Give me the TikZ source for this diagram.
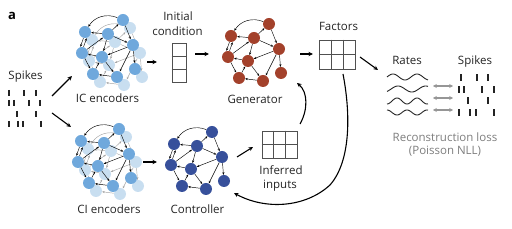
\documentclass[tikz,border=0pt]{standalone}
\usepackage{fontspec}
\setmainfont{Open Sans}
\usetikzlibrary{arrows.meta,calc}
\definecolor{icblue}{RGB}{111,168,220}
\definecolor{iclight}{RGB}{200,222,240}
\definecolor{genred}{RGB}{163,65,43}
\definecolor{ctrlblue}{RGB}{55,80,155}
\definecolor{arrgray}{RGB}{150,150,150}
\definecolor{backedge}{RGB}{165,165,165}
\definecolor{txtgray}{RGB}{125,125,125}
\definecolor{txtdark}{RGB}{35,35,35}
\definecolor{gridgray}{RGB}{80,80,80}

\tikzset{
 netnode/.style={circle, inner sep=0pt, minimum size=12pt, draw=none},
 netedge/.style={line width=0.45pt, -{Stealth[length=2.6pt,width=2.2pt]}},
 mainarrow/.style={line width=1.1pt, -{Stealth[length=4.5pt,width=4.2pt]}},
 lbl/.style={font=\fontsize{11.5}{13}\selectfont, inner sep=0pt, text=txtdark},
 graylbl/.style={font=\fontsize{11.5}{13}\selectfont, inner sep=0pt, text=txtgray},
 spiketick/.style={line width=2pt, txtdark},
 gridbox/.style={draw=gridgray, line width=0.6pt, inner sep=0pt},
 gridline/.style={gridgray, line width=0.6pt},
 wave/.style={line width=0.9pt, txtdark},
 lossarrow/.style={line width=1.1pt, arrgray, {Stealth[length=3.8pt,width=4pt]}-{Stealth[length=3.8pt,width=4pt]}},
}

\newcommand\netnodes[3]{%
 \begin{scope}[shift={#2}]
  \foreach \i/\px/\py in {1/123/20,2/85/32,3/108/34,4/133/45,5/82/53,6/102/57,7/135/69,8/93/74,9/117/77}
   \node[netnode,fill=#3] (#1n\i) at (\px,\py) {};
 \end{scope}}

\newcommand\netedges[2]{%
 \begin{scope}[netedge,color=#2]
  \draw (#1n1) to[bend right=40] (#1n2);
  \draw (#1n3) -- (#1n1);
  \draw (#1n3) -- (#1n2);
  \draw (#1n1) -- (#1n4);
  \draw (#1n3) -- (#1n4);
  \draw ([xshift=-1.6pt]#1n2.south) -- ([xshift=-1.6pt]#1n5.north);
  \draw ([xshift=1.6pt]#1n5.north) -- ([xshift=1.6pt]#1n2.south);
  \draw (#1n5) -- (#1n3);
  \draw (#1n4) -- (#1n6);
  \draw (#1n3) -- (#1n6);
  \draw (#1n6) -- (#1n5);
  \draw (#1n5) -- (#1n8);
  \draw (#1n6) -- (#1n9);
  \draw (#1n4) -- (#1n9);
  \draw (#1n4) -- (#1n7);
  \draw (#1n9) -- (#1n8);
  \draw (#1n8) -- (#1n6);
 \end{scope}}

\begin{document}
\begin{tikzpicture}[x=1pt,y=-1pt]
\useasboundingbox (0,0) rectangle (512,229);

% panel label
\node[inner sep=0pt, anchor=base, font=\fontsize{13}{15}\selectfont\bfseries, text=black] (lab) at (12,19.5) {a};

% input spikes
\node[lbl, anchor=base] (spkL) at (25.5,80) {Spikes};
\foreach \x/\y in {9/93,24/93,36/93, 9/103,14/103,29/103,40/103, 17/114,36/114, 9/124,18/124,23/124,41/124}
  \draw[spiketick] (\x,\y-3.2) -- (\x,\y+3.2);

% encoders
\netnodes{icb}{(7,8)}{iclight}
\netedges{icb}{backedge}
\netnodes{ic}{(0,0)}{icblue}
\netedges{ic}{black}
\node[lbl, anchor=base] (iclab) at (107.5,103) {IC encoders};

\netnodes{cib}{(3,117)}{iclight}
\netedges{cib}{backedge}
\netnodes{ci}{(-4,109)}{icblue}
\netedges{ci}{black}
\node[lbl, anchor=base] (cilab) at (109,214) {CI encoders};

% generator and controller
\netnodes{gen}{(146,4)}{genred}
\netedges{gen}{black}
\node[lbl, anchor=base] (genlab) at (255,104) {Generator};

\netnodes{ctl}{(89,112)}{ctrlblue}
\netedges{ctl}{black}
\node[lbl, anchor=base] (ctllab) at (197.5,214) {Controller};

% initial condition
\node[lbl, anchor=base] (initlab1) at (178,21) {Initial};
\node[lbl, anchor=base] (initlab2) at (177.5,36) {condition};
\node[gridbox, minimum width=14pt, minimum height=39pt] (init) at (179,63) {};
\draw[gridline] ($(init.north west)!1/3!(init.south west)$) -- ($(init.north east)!1/3!(init.south east)$);
\draw[gridline] ($(init.north west)!2/3!(init.south west)$) -- ($(init.north east)!2/3!(init.south east)$);

% factors
\node[lbl, anchor=base] (faclab) at (338.5,31) {Factors};
\node[gridbox, minimum width=36pt, minimum height=29pt] (fac) at (337,54.5) {};
\draw[gridline] ($(fac.north west)!1/3!(fac.north east)$) -- ($(fac.south west)!1/3!(fac.south east)$);
\draw[gridline] ($(fac.north west)!2/3!(fac.north east)$) -- ($(fac.south west)!2/3!(fac.south east)$);
\draw[gridline] (fac.west) -- (fac.east);

% inferred inputs
\node[gridbox, minimum width=35pt, minimum height=27pt] (inf) at (279.5,144.5) {};
\draw[gridline] ($(inf.north west)!1/3!(inf.north east)$) -- ($(inf.south west)!1/3!(inf.south east)$);
\draw[gridline] ($(inf.north west)!2/3!(inf.north east)$) -- ($(inf.south west)!2/3!(inf.south east)$);
\draw[gridline] (inf.west) -- (inf.east);
\node[lbl, anchor=base] (inflab1) at (281,175) {Inferred};
\node[lbl, anchor=base] (inflab2) at (280,189) {inputs};

% rates and output spikes
\node[lbl, anchor=base] (rateslab) at (407,65) {Rates};
\node[lbl, anchor=base] (spkR) at (475,65) {Spikes};
\draw[wave] plot[domain=387:428, samples=60] (\x, {77 - 3*sin(15*(\x-387))});
\draw[wave] plot[domain=387:428, samples=60] (\x, {89 - 3*sin(13*(\x-387)-53)});
\draw[wave] plot[domain=387:428, samples=60] (\x, {101 - 3*sin(18*(\x-387)-90)});
\draw[wave] plot[domain=387:428, samples=60] (\x, {112.5 - 2.5*sin(18*(\x-387)+90)});
\foreach \x/\y in {461/77.5,477/77.5,488/77.5, 459/89.5,464/89.5,482/89.5,494/89.5, 468/100.5,488/100.5, 459/112.5,470/112.5,476/112.5,494/112.5}
  \draw[spiketick] (\x,\y-3.2) -- (\x,\y+3.2);

\coordinate (la1) at (433,86); \coordinate (lb1) at (453,86);
\coordinate (la2) at (433,98); \coordinate (lb2) at (453,98);
\coordinate (la3) at (433,110); \coordinate (lb3) at (453,110);
\draw[lossarrow] (la1) -- (lb1);
\draw[lossarrow] (la2) -- (lb2);
\draw[lossarrow] (la3) -- (lb3);
\node[graylbl, anchor=base] (loss1) at (445,142) {Reconstruction loss};
\node[graylbl, anchor=base] (loss2) at (445,155) {(Poisson NLL)};

% main arrows
\coordinate (s1a) at (52,96);  \coordinate (s1b) at (72,76);
\coordinate (s2a) at (52,113); \coordinate (s2b) at (71,127);
\coordinate (e1a) at (147,62); \coordinate (e1b) at (157,62);
\coordinate (e2a) at (195,54); \coordinate (e2b) at (209,54);
\coordinate (e3a) at (300,54); \coordinate (e3b) at (313,54);
\coordinate (e4a) at (360,57); \coordinate (e4b) at (378,70);
\coordinate (e5a) at (143,162); \coordinate (e5b) at (157,162);
\coordinate (e6a) at (237,157); \coordinate (e6b) at (253,147);
\coordinate (c1a) at (300,124); \coordinate (c1b) at (297,83);
\coordinate (c2a) at (343,74);  \coordinate (c2m) at (330,185); \coordinate (c2b) at (234,193);
\draw[mainarrow] (s1a) -- (s1b);
\draw[mainarrow] (s2a) -- (s2b);
\draw[mainarrow] (e1a) -- (e1b);
\draw[mainarrow] (e2a) -- (e2b);
\draw[mainarrow] (e3a) -- (e3b);
\draw[mainarrow] (e4a) -- (e4b);
\draw[mainarrow] (e5a) -- (e5b);
\draw[mainarrow] (e6a) -- (e6b);
\draw[mainarrow] (c1a) .. controls (308,110) and (308,92) .. (c1b);
\draw[mainarrow] (c2a) .. controls (350,110) and (352,160) .. (c2m) .. controls (305,208) and (265,210) .. (c2b);
\end{tikzpicture}
\end{document}
